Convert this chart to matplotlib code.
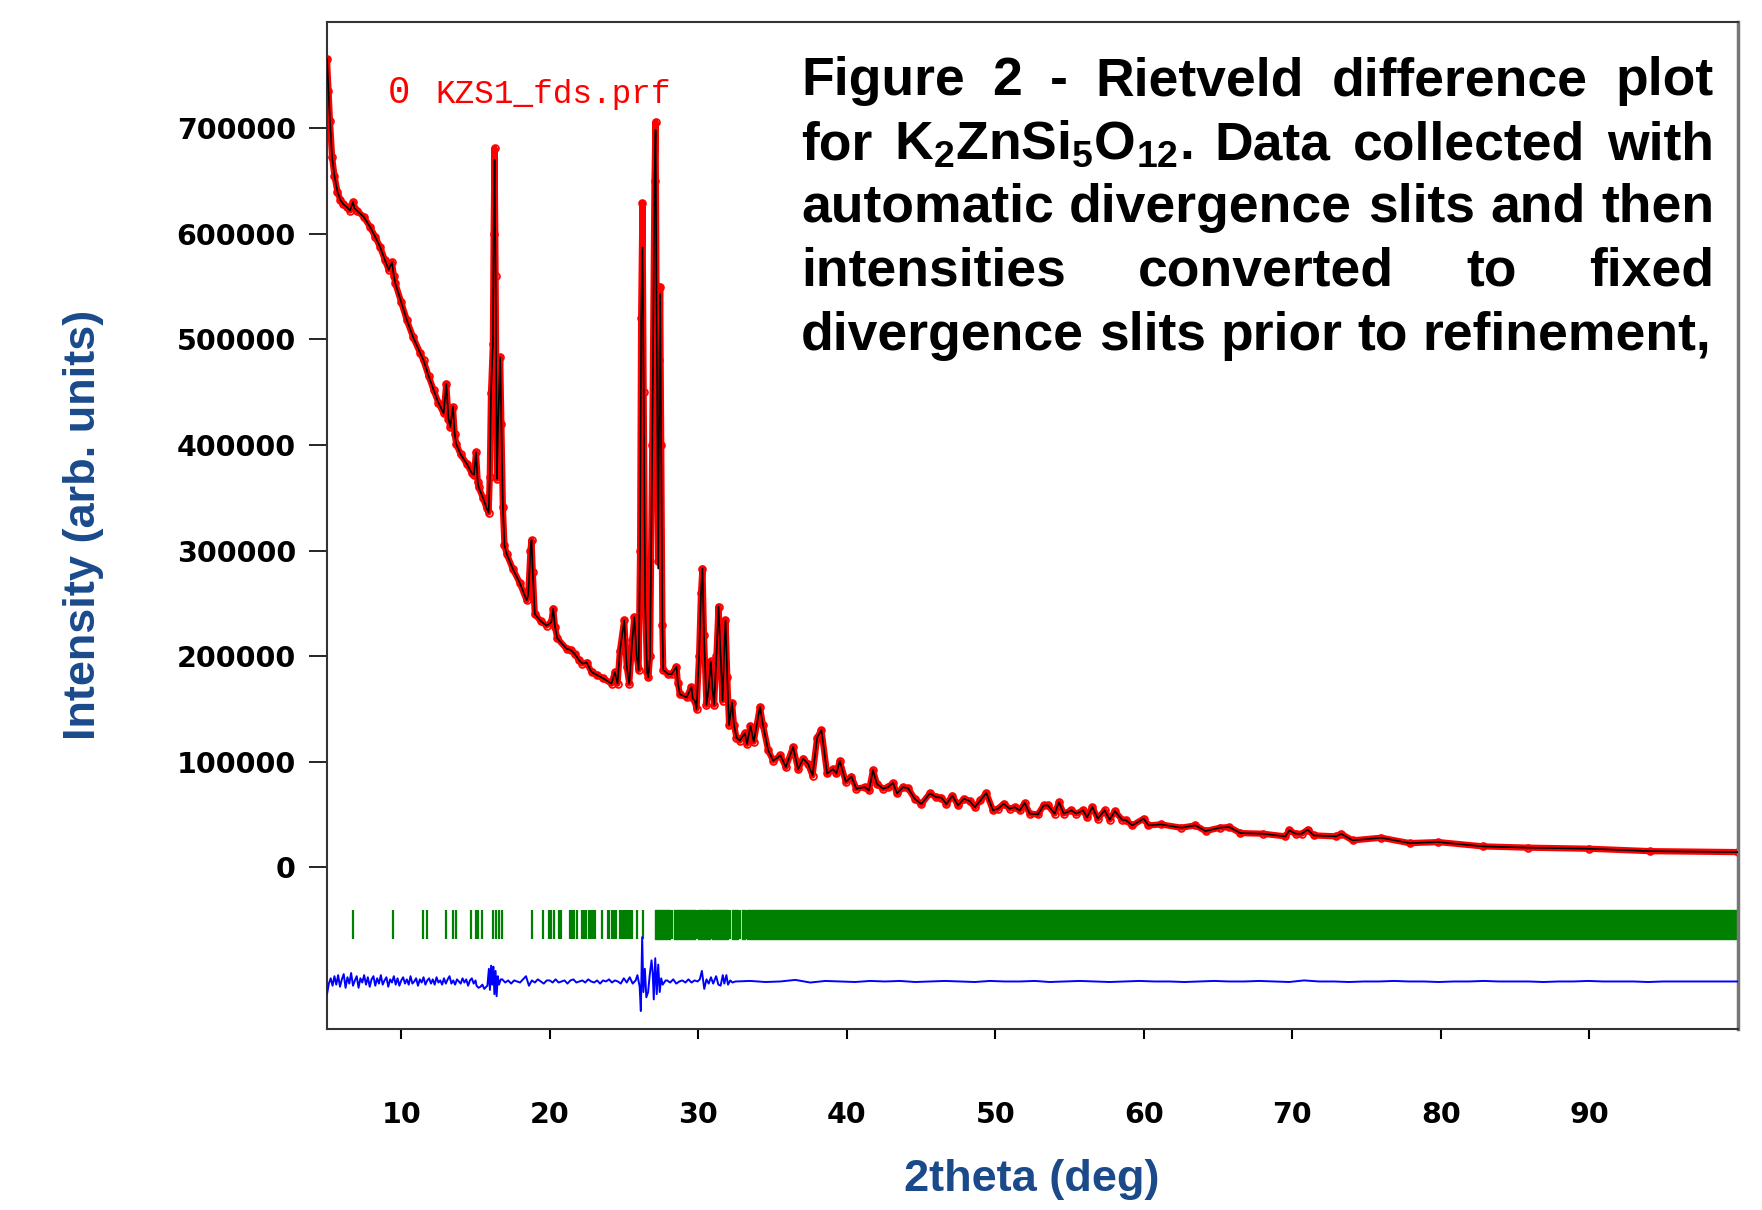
import numpy as np
import matplotlib
matplotlib.use('Agg')
import matplotlib.pyplot as plt
from matplotlib.transforms import IdentityTransform

plt.rcParams['mathtext.fontset'] = 'custom'
plt.rcParams['mathtext.rm'] = 'Liberation Sans:bold'
plt.rcParams['mathtext.it'] = 'Liberation Sans:bold'
plt.rcParams['mathtext.bf'] = 'Liberation Sans:bold'

obs_tth = [5.00, 5.10, 5.20, 5.34, 5.50, 5.70, 5.90, 6.10, 6.35, 6.55, 6.75, 6.85, 7.02, 7.47,
           7.92, 8.25, 8.59, 8.90, 9.15, 9.37, 9.50, 9.60, 10.00, 10.38, 10.80, 11.28, 11.50,
           11.85, 12.18, 12.50, 12.85, 13.03, 13.18, 13.30, 13.48, 13.60, 13.70, 14.00, 14.42,
           14.76, 14.90, 15.03, 15.15, 15.21, 15.50, 15.75, 15.88, 15.96, 16.04, 16.17, 16.22,
           16.28, 16.35, 16.44, 16.52, 16.66, 16.74, 16.84, 16.95, 17.09, 17.50, 17.99, 18.44,
           18.55, 18.70, 18.77, 18.85, 18.99, 19.40, 19.78, 20.10, 20.23, 20.35, 20.50, 21.13,
           21.40, 21.69, 21.98, 22.20, 22.48, 22.81, 23.20, 23.60, 24.16, 24.38, 24.56, 24.72,
           25.01, 25.18, 25.35, 25.55, 25.69, 25.85, 25.98, 26.08, 26.15, 26.24, 26.32, 26.42,
           26.55, 26.63, 26.75, 26.90, 27.05, 27.12, 27.20, 27.30, 27.38, 27.43, 27.50, 27.58,
           27.64, 27.97, 28.20, 28.53, 28.62, 28.76, 29.21, 29.54, 29.62, 29.76, 29.88, 30.05,
           30.18, 30.28, 30.38, 30.55, 30.70, 30.84, 30.95, 31.06, 31.22, 31.36, 31.50, 31.63,
           31.73, 31.83, 31.95, 32.07, 32.27, 32.40, 32.57, 32.79, 33.13, 33.28, 33.51, 33.73,
           34.15, 34.35, 34.70, 35.04, 35.53, 35.89, 36.38, 36.72, 37.06, 37.39, 37.69, 38.00,
           38.29, 38.67, 39.07, 39.30, 39.52, 39.93, 40.31, 40.64, 41.20, 41.49, 41.76, 42.03,
           42.44, 42.77, 43.11, 43.38, 43.78, 44.12, 44.57, 45.02, 45.58, 46.03, 46.37, 46.70,
           47.11, 47.48, 47.87, 48.27, 48.61, 48.99, 49.39, 49.84, 50.18, 50.56, 50.96, 51.30,
           51.64, 51.97, 52.31, 52.87, 53.25, 53.54, 53.99, 54.28, 54.60, 55.11, 55.45, 55.90,
           56.17, 56.53, 56.90, 57.35, 57.70, 58.04, 58.53, 58.80, 59.22, 59.98, 60.31, 61.14,
           62.51, 63.47, 64.15, 65.12, 65.75, 66.50, 68.01, 69.52, 69.79, 70.21, 70.62, 71.03,
           71.44, 72.95, 73.28, 74.05, 75.97, 77.89, 79.82, 82.84, 85.86, 89.98, 94.10, 100.0]
obs_int = [765000, 735000, 707000, 673000, 655000, 640000, 632000, 628000, 625000, 622000,
           630000, 624000, 622000, 616000, 606000, 597000, 587000, 575000, 566000, 573000,
           560000, 553000, 535000, 518000, 502000, 487000, 480000, 465000, 452000, 440000,
           430000, 458000, 425000, 417000, 436000, 410000, 401000, 391000, 382000, 373000,
           372000, 393000, 365000, 360000, 350000, 340000, 336000, 370000, 449000, 496000,
           600000, 681000, 560000, 368000, 420000, 483000, 420000, 341000, 305000, 297000,
           283000, 269000, 253000, 258000, 300000, 310000, 280000, 240000, 233000, 229000,
           232000, 245000, 228000, 217000, 207000, 206000, 202000, 196000, 193000, 194000,
           185000, 182000, 179000, 174000, 185000, 174000, 205000, 234000, 190000, 174000,
           215000, 237000, 200000, 187000, 300000, 520000, 629000, 450000, 250000, 185000,
           180000, 200000, 400000, 650000, 706000, 500000, 290000, 480000, 550000, 400000,
           230000, 187000, 183000, 183000, 190000, 175000, 164000, 161000, 171000, 160000,
           158000, 150000, 200000, 260000, 283000, 220000, 154000, 170000, 195000, 170000,
           154000, 200000, 247000, 200000, 158000, 200000, 234000, 180000, 135000, 156000,
           135000, 123000, 120000, 127000, 117000, 134000, 119000, 152000, 135000, 111000,
           101000, 106000, 95000, 114000, 93000, 103000, 98000, 87000, 123000, 130000,
           89000, 93000, 89000, 101000, 81000, 86000, 74500, 76000, 73000, 92000,
           79000, 74500, 76000, 80000, 70000, 76000, 75000, 65000, 60000, 70000,
           66500, 66000, 60000, 68000, 58700, 65000, 62800, 57000, 63400, 70400,
           54000, 55600, 60300, 55600, 57000, 54000, 61000, 50900, 50200, 58700,
           58700, 50900, 61800, 50900, 54000, 50900, 54000, 47600, 57100, 46100,
           54000, 45200, 53300, 45200, 44500, 39800, 46100, 39800, 40700, 37600,
           39800, 34400, 37600, 38200, 32500, 31900, 29400, 35000, 31900, 31900,
           35700, 30300, 29400, 31900, 25600, 28100, 23000, 24000, 19900, 18700,
           17700, 15400, 14500]

# calculated profile differs from observed only at the strongest peak tops
calc_fix_tth = [16.28, 26.24, 27.12, 27.30, 27.43]
calc_fix_int = [670000, 587000, 698000, 283000, 543000]

# difference curve (thousands of counts), offset below the pattern
diff_offset = -108000
noise_a = [-12, -2, 3, -4, 5, -3, 6, -5, 2, 7, -6, 4, -2, 8, -4, 1, 5, -6, 3, -1, 6, -3, 4,
           -5, 2, 5, -4, 3, -2, 6, -3, 1, 4, -5, 2, -1, 5, -3, 3, -4, 1, 4, -2, 2, -3, 5, -2,
           0, 3, -4, 2, -1, 4, -3, 1, 3, -2, 2, -3, 4, -1, 1, -3, 3, -2, 2, 5, -2, 1, -3, 2,
           0, -2, 3, -1, 2, -4, 1, 3, -2, 1]
dip_a = [-4, -6, -5, -3, -7, -5]
peak16_tth = [15.80, 15.90, 15.97, 16.05, 16.12, 16.20, 16.27, 16.35, 16.42, 16.50, 16.58, 16.70]
peak16_d = [-4, 12, -8, 15, -3, 14, -12, 10, -14, 5, -3, 2]
noise_b = [2, -1, 1, -2, 1, 0, -1, 2, 5, -4, 1, -1, 2, 0, -2, 1, 1, -1, 2, -1, 0, 1, -2, 1,
           2, -1, 0, 1, -1, 2, 0, -1, 1, -2, 1, 0, 2, -1, 1, 0, -2, 3, -1, 4, -2, 1]
peak26_tth = [25.90, 26.05, 26.13, 26.22, 26.30, 26.40, 26.50, 26.62, 26.72, 26.85, 26.93,
              27.00, 27.10, 27.20, 27.30, 27.40, 27.50, 27.60, 27.80]
peak26_d = [6, -5, -28, 42, -10, 12, -15, -10, 5, 20, 8, -17, 22, -12, 16, -10, 3, -3, 1]
noise_c = [1, -1, 2, -2, 0, 1, -1, 2, -1, 1, 0]
peak31_tth = [30.10, 30.24, 30.40, 30.55, 30.70, 30.85, 31.00, 31.20, 31.35, 31.50, 31.65,
              31.75, 31.89, 32.00, 32.15, 32.30]
peak31_d = [2, 10, -7, 2, -2, 4, -2, 5, -3, -4, 6, -2, 6, -3, 1, -1]
noise_d = [0, 0.5, -0.5, 0, 1.5, -1, 0.5, 0, -0.5, 0.5, 0, 0.5, -0.5, 0, 0.5, 0, -0.5, 0.5,
           0, 0, 0.5, -0.5, 0, 0.5, 0, -0.5, 0, 0.5, 0, 0, -0.5, 0, 0.5, 0, 0, 0.5, 0, -0.5,
           1, 0, 0, -0.5, 0, 0, 0.5, 0, 0, -0.5, 0, 0, 0.5, 0, 0, 0, -0.5, 0, 0, 0.5, 0, 0,
           0, -0.5, 0, 0, 0, 0, 0, 0]

# Bragg reflection positions (single ticks) and ranges where the ticks merge
bragg_tth = [6.75, 9.42, 11.46, 11.73, 13.03, 13.48, 13.70, 14.69, 15.00, 15.14, 15.43, 16.15,
             16.37, 16.60, 16.75, 18.80, 19.54, 19.92, 20.07, 20.25, 20.59, 20.77, 21.33,
             21.49, 21.64, 21.82, 22.16, 22.32, 22.45, 22.61, 22.77, 22.90, 23.06, 23.53,
             23.89, 24.02, 24.18, 24.34, 24.47, 24.74, 24.85, 24.96, 25.08, 25.19, 25.30,
             25.41, 25.52, 25.86, 26.27, 28.20, 29.90, 30.85, 32.14, 32.80, 33.23]
bragg_dense = [(27.10, 28.10), (28.33, 29.79), (30.01, 30.80), (30.91, 32.03),
               (32.25, 32.70), (32.93, 33.15), (33.31, 100.0)]
tick_lo, tick_hi = -67500, -40000

ytick_vals = [0, 100000, 200000, 300000, 400000, 500000, 600000, 700000]
xtick_vals = [10, 20, 30, 40, 50, 60, 70, 80, 90]

title_lines = ["Figure 2 - Rietveld difference plot",
               "for K$_2$ZnSi$_5$O$_{12}$. Data collected with",
               "automatic divergence slits and then",
               "intensities converted to fixed",
               "divergence slits prior to refinement,"]

# ---- build series
calc_int = list(obs_int)
for t, v in zip(calc_fix_tth, calc_fix_int):
    calc_int[obs_tth.index(t)] = v

diff_tth = np.concatenate([np.linspace(5.0, 15.0, len(noise_a)),
                           np.linspace(15.07, 15.72, len(dip_a)),
                           peak16_tth,
                           np.linspace(16.8, 25.78, len(noise_b)),
                           peak26_tth,
                           np.linspace(27.9, 29.95, len(noise_c)),
                           peak31_tth,
                           np.linspace(32.5, 100.0, len(noise_d))])
diff_val = np.concatenate([noise_a, dip_a, peak16_d, noise_b, peak26_d, noise_c,
                           peak31_d, noise_d]) * 1000.0 + diff_offset

W, H = 1762, 1210
fig = plt.figure(figsize=(W / 100, H / 100), dpi=100)
ax = fig.add_axes([327 / W, 1 - 1029 / H, 1411 / W, 1007 / H])

ax.plot(obs_tth, obs_int, color='red', lw=4.5, zorder=2)
ax.plot(obs_tth, obs_int, 'o', mfc='none', mec='red', ms=5, mew=1.2, zorder=2)
ax.plot(obs_tth, calc_int, color='black', lw=1.2, zorder=3)
ax.plot(diff_tth, diff_val, color='#0000ff', lw=1.4, zorder=3)
ax.vlines(bragg_tth, tick_lo, tick_hi, color='#008000', lw=1.6)
ax.broken_barh([(a, b - a) for a, b in bragg_dense], (tick_lo, tick_hi - tick_lo),
               color='#008000')

ax.set_xlim(5, 100)
ax.set_ylim(-153000, 800500)
ax.set_yticks(ytick_vals)
ax.set_yticklabels([str(v) for v in ytick_vals])
ax.set_xticks(xtick_vals)
ax.set_xticklabels([str(v) for v in xtick_vals])
for lab in ax.get_xticklabels() + ax.get_yticklabels():
    lab.set_family('DejaVu Sans')
    lab.set_fontweight('bold')
    lab.set_fontsize(20.5)
ax.tick_params(axis='y', direction='out', length=13, width=1.2, pad=9.4)
ax.tick_params(axis='x', direction='out', length=7, width=1.5, pad=45)
for s in ax.spines.values():
    s.set_color('#333333')
    s.set_linewidth(1.5)
ax.spines['right'].set_color('#777777')
ax.spines['right'].set_linewidth(2.5)

lab_col = '#1a4a8a'
fig.text(84 / W, 1 - 525 / H, 'Intensity (arb. units)', rotation=90, ha='center',
         va='center', fontsize=32.5, fontweight='bold', family='Liberation Sans', color=lab_col)
fig.text(1032 / W, 1 - 1180 / H, '2theta (deg)', ha='center', va='center',
         fontsize=32.5, fontweight='bold', family='Liberation Sans', color=lab_col)

# legend entry
ident = IdentityTransform()
fig.text(388, H - 103, '0', transform=ident, fontsize=27, family='Liberation Mono',
         color='red', va='baseline')
fig.text(435, H - 103, 'KZS1_fds.prf', transform=ident, fontsize=23.5,
         family='Liberation Mono', color='red', va='baseline')

# justified caption block
fig.canvas.draw()
rend = fig.canvas.get_renderer()
x0, x1 = 801, 1714
baselines = [95, 159, 222, 286, 350]
for i, line in enumerate(title_lines):
    words = line.split(' ')
    txts = [fig.text(0, 0, w, transform=ident, fontsize=38.5, fontweight='bold',
                     family='Liberation Sans', color='black', va='baseline') for w in words]
    widths = [t.get_window_extent(rend).width for t in txts]
    if i < len(title_lines) - 1:
        gap = (x1 - x0 - sum(widths)) / (len(words) - 1)
    else:
        gap = 0.278 * 38.5 * 100 / 72
    x = x0
    for t, w in zip(txts, widths):
        t.set_position((x, H - baselines[i]))
        x += w + gap

fig.savefig('out.png', dpi=100)
